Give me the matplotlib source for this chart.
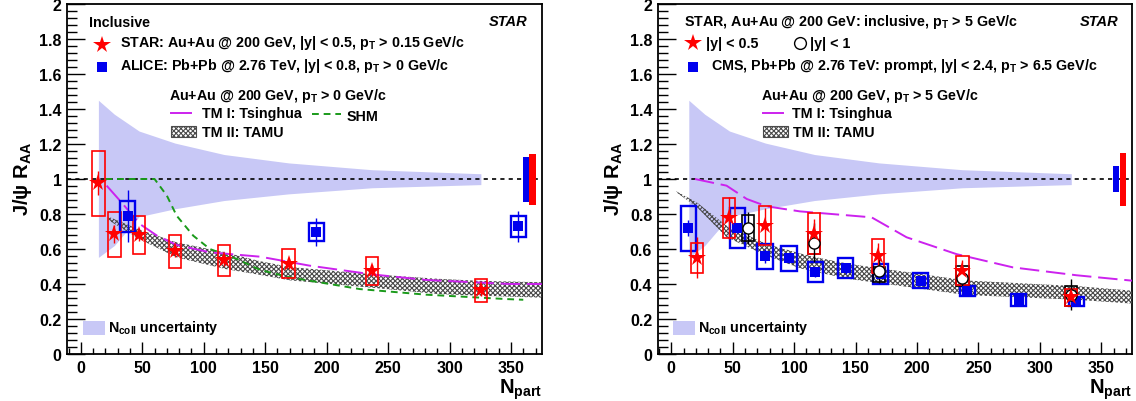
import numpy as np
import matplotlib
matplotlib.use('Agg')
import matplotlib.pyplot as plt
from matplotlib.patches import Rectangle
from matplotlib.ticker import MultipleLocator, FuncFormatter

plt.rcParams['font.family'] = ['Liberation Sans', 'DejaVu Sans']
plt.rcParams['font.weight'] = 'bold'
plt.rcParams['mathtext.fontset'] = 'custom'
plt.rcParams['mathtext.rm'] = 'Liberation Sans:bold'
plt.rcParams['mathtext.it'] = 'Liberation Sans:bold:italic'
plt.rcParams['mathtext.bf'] = 'Liberation Sans:bold'
plt.rcParams['hatch.linewidth'] = 0.8

# ---- left panel: inclusive, pT > 0 ----
star_npart = [14.3, 27.3, 47.4, 76.7, 116.5, 169.0, 237.0, 325.5]
star_raa = [0.975, 0.685, 0.68, 0.587, 0.535, 0.515, 0.477, 0.363]
star_stat = [0.068, 0.05, 0.035, 0.03, 0.03, 0.03, 0.03, 0.03]
star_sys_lo = [0.79, 0.555, 0.569, 0.494, 0.448, 0.432, 0.396, 0.295]
star_sys_hi = [1.159, 0.814, 0.79, 0.68, 0.622, 0.60, 0.552, 0.429]

alice_npart = [38.1, 191.6, 356.0]
alice_raa = [0.79, 0.70, 0.73]
alice_stat = [0.15, 0.08, 0.09]
alice_sys_lo = [0.70, 0.648, 0.667]
alice_sys_hi = [0.876, 0.749, 0.787]

tsing_l_x = [21, 33, 48, 62, 78, 105, 146, 186, 237, 281, 349, 375]
tsing_l_y = [0.962, 0.867, 0.743, 0.676, 0.623, 0.581, 0.556, 0.505, 0.455, 0.423, 0.40, 0.40]

shm_x = [20, 60, 70, 78, 91.5, 105, 127, 146, 170, 227, 281, 346, 360]
shm_y = [1.0, 1.0, 0.905, 0.79, 0.676, 0.60, 0.543, 0.48, 0.438, 0.371, 0.339, 0.314, 0.31]

tamu_l_x = [22.4, 48, 78, 118, 146, 170, 238, 290, 325, 375]
tamu_l_hi = [0.785, 0.71, 0.638, 0.58, 0.53, 0.497, 0.455, 0.43, 0.418, 0.41]
tamu_l_lo = [0.765, 0.655, 0.552, 0.485, 0.452, 0.421, 0.378, 0.343, 0.333, 0.322]

glob_alice_l = [0.867, 1.124]
glob_star_l = [0.851, 1.143]

# ---- right panel: high pT ----
rs_npart = [20.7, 47.1, 76.3, 116.4, 168.4, 237.0, 325.0]
rs_raa = [0.549, 0.777, 0.733, 0.686, 0.562, 0.476, 0.327]
rs_stat = [0.117, 0.12, 0.10, 0.083, 0.07, 0.06, 0.04]
rs_sys_lo = [0.461, 0.661, 0.623, 0.571, 0.463, 0.394, 0.276]
rs_sys_hi = [0.634, 0.89, 0.844, 0.806, 0.657, 0.558, 0.371]

rc_npart = [62.2, 116.4, 169.0, 237.0, 325.0]
rc_raa = [0.72, 0.636, 0.476, 0.432, 0.34]
rc_stat = [0.09, 0.11, 0.07, 0.06, 0.09]
rc_sys_lo = [0.644, 0.571, 0.413, 0.39, 0.276]
rc_sys_hi = [0.796, 0.695, 0.495, 0.505, 0.39]

cms_npart = [13.9, 53.8, 76.3, 95.8, 117.3, 142.0, 170.3, 203.1, 241.0, 282.8, 329.7]
cms_raa = [0.72, 0.72, 0.562, 0.549, 0.47, 0.49, 0.457, 0.419, 0.362, 0.31, 0.299]
cms_stat = [0.045, 0.03, 0.04, 0.03, 0.03, 0.03, 0.025, 0.02, 0.02, 0.015, 0.015]
cms_sys_lo = [0.59, 0.604, 0.486, 0.476, 0.413, 0.433, 0.40, 0.375, 0.33, 0.276, 0.276]
cms_sys_hi = [0.848, 0.832, 0.629, 0.619, 0.528, 0.547, 0.514, 0.461, 0.387, 0.343, 0.327]

tsing_r_x = [19.3, 45, 61.4, 77.6, 104.7, 163, 191.5, 232, 278, 329.7, 375]
tsing_r_y = [1.0, 0.962, 0.886, 0.844, 0.815, 0.781, 0.667, 0.571, 0.495, 0.45, 0.419]

tamu_r_x = [4, 20.7, 45.1, 77.6, 104.7, 118.3, 145.4, 169.8, 240.2, 329.7, 375]
tamu_r_hi = [0.93, 0.867, 0.733, 0.629, 0.575, 0.552, 0.514, 0.49, 0.42, 0.388, 0.362]
tamu_r_lo = [0.925, 0.84, 0.667, 0.562, 0.49, 0.468, 0.428, 0.405, 0.337, 0.31, 0.288]

glob_cms_r = [0.924, 1.076]
glob_star_r = [0.847, 1.149]

# N_coll uncertainty band (same in both panels)
ncoll_npart = [14.3, 27.3, 47.4, 76.7, 116.5, 169.0, 237.0, 325.5]
ncoll_hi = [1.45, 1.37, 1.274, 1.205, 1.14, 1.092, 1.053, 1.03]
ncoll_lo = [0.552, 0.62, 0.785, 0.83, 0.877, 0.915, 0.95, 0.968]

RED = '#ff0000'
BLUE = '#0000ee'
MAG = '#cc22ee'
GREEN = '#1a9a1a'
BAND = '#c8c8f6'
HATCH = '#4a4a4a'
FS = 10.3


def boxes(ax, x, lo, hi, half, color, lw, z):
    for xi, l, h in zip(x, lo, hi):
        ax.add_patch(Rectangle((xi - half, l), 2 * half, h - l, fill=False,
                               edgecolor=color, lw=lw, zorder=z))


def setup(ax):
    ax.set_xlim(-11, 375)
    ax.set_ylim(0, 2)
    ax.xaxis.set_major_locator(MultipleLocator(50))
    ax.xaxis.set_minor_locator(MultipleLocator(10))
    ax.yaxis.set_major_locator(MultipleLocator(0.2))
    ax.yaxis.set_minor_locator(MultipleLocator(0.04))
    ax.yaxis.set_major_formatter(FuncFormatter(lambda v, p: '%g' % round(v, 2)))
    ax.xaxis.set_tick_params(which='major', length=9, width=1, direction='in', pad=4)
    ax.xaxis.set_tick_params(which='minor', length=4.5, width=1, direction='in')
    ax.yaxis.set_tick_params(which='major', length=13, width=1, direction='in', pad=4)
    ax.yaxis.set_tick_params(which='minor', length=7, width=1, direction='in')
    ax.tick_params(top=False, right=False, which='both', labelsize=11.5)
    for s in ax.spines.values():
        s.set_linewidth(1.3)
    # N_coll band and unity line
    ax.fill_between(ncoll_npart, ncoll_lo, ncoll_hi, color=BAND, lw=0, zorder=1)
    ax.axhline(1, color='black', lw=1.2, ls=(0, (2.5, 2.5)), zorder=2)
    ax.text(1.0, -0.063, 'N$_{\\mathrm{part}}$', transform=ax.transAxes,
            ha='right', va='top', fontsize=14.5)
    ax.text(-0.094, 0.61, 'J/ψ R$_{\\mathrm{AA}}$', transform=ax.transAxes,
            rotation=90, ha='center', va='top', fontsize=14.5)
    ax.text(0.971, 0.941, 'STAR', transform=ax.transAxes, ha='right',
            va='baseline', fontsize=10.5, style='italic')
    ax.add_patch(Rectangle((0.033, 0.054), 0.046, 0.041, transform=ax.transAxes,
                           facecolor=BAND, lw=0))
    ax.text(0.086, 0.0666, 'N$_{\\mathrm{coll}}$ uncertainty', transform=ax.transAxes,
            va='baseline', fontsize=FS)


fig = plt.figure(figsize=(11.36, 4.02), dpi=100)
axl = fig.add_axes([67.3 / 1136, 47 / 402, 474.4 / 1136, 350 / 402])
axr = fig.add_axes([657.7 / 1136, 47 / 402, 474.4 / 1136, 350 / 402])

# ---------------- left ----------------
ax = axl
setup(ax)
ax.fill_between(tamu_l_x, tamu_l_lo, tamu_l_hi, facecolor='none', edgecolor=HATCH,
                hatch='xxxxxxx', lw=0, zorder=3)
ax.plot(shm_x, shm_y, color=GREEN, lw=1.4, ls=(0, (3.5, 2.5)), zorder=4)
ax.plot(tsing_l_x, tsing_l_y, color=MAG, lw=1.4, ls=(0, (10, 3.5)), zorder=4)
boxes(ax, star_npart, star_sys_lo, star_sys_hi, 5, RED, 1.2, 5)
boxes(ax, alice_npart, alice_sys_lo, alice_sys_hi, 6.2, BLUE, 1.7, 5)
ax.errorbar(star_npart, star_raa, yerr=star_stat, fmt='none', ecolor=RED, elinewidth=1, zorder=6)
ax.errorbar(alice_npart, alice_raa, yerr=alice_stat, fmt='none', ecolor=BLUE, elinewidth=1, zorder=6)
ax.plot(star_npart, star_raa, '*', color=RED, ms=13, mew=0, zorder=7)
ax.plot(alice_npart, alice_raa, 's', color=BLUE, ms=6.5, mew=0, zorder=7)
ax.bar(362.5, glob_alice_l[1] - glob_alice_l[0], bottom=glob_alice_l[0], width=5,
       color=BLUE, zorder=5)
ax.bar(367.7, glob_star_l[1] - glob_star_l[0], bottom=glob_star_l[0], width=5.4,
       color=RED, zorder=5)

t = ax.transAxes
ax.text(0.0455, 0.936, 'Inclusive', transform=t, va='baseline', fontsize=FS)
ax.plot([0.074], [0.884], '*', color=RED, ms=13, mew=0, transform=t)
ax.text(0.1107, 0.881, 'STAR: Au+Au @ 200 GeV, |y| < 0.5, p$_{\\mathrm{T}}$ > 0.15 GeV/c',
        transform=t, va='baseline', fontsize=FS)
ax.plot([0.074], [0.819], 's', color=BLUE, ms=7, mew=0, transform=t)
ax.text(0.1107, 0.8143, 'ALICE: Pb+Pb @ 2.76 TeV, |y| < 0.8, p$_{\\mathrm{T}}$ > 0 GeV/c',
        transform=t, va='baseline', fontsize=FS)
ax.text(0.2154, 0.7286, 'Au+Au @ 200 GeV, p$_{\\mathrm{T}}$ > 0 GeV/c',
        transform=t, va='baseline', fontsize=FS)
ax.plot([0.2178, 0.2614], [0.6877, 0.6877], color=MAG, lw=1.4, transform=t)
ax.text(0.2829, 0.676, 'TM I: Tsinghua', transform=t, va='baseline', fontsize=FS)
ax.plot([0.5158, 0.577], [0.6857, 0.6857], color=GREEN, lw=1.4, ls=(0, (3.5, 2.5)), transform=t)
ax.text(0.5888, 0.669, 'SHM', transform=t, va='baseline', fontsize=FS)
ax.add_patch(Rectangle((0.2178, 0.6191), 0.0535, 0.0332, transform=t, facecolor='white',
                       edgecolor=HATCH, hatch='xxxxxxx', lw=0.8))
ax.text(0.2829, 0.622, 'TM II: TAMU', transform=t, va='baseline', fontsize=FS)

# ---------------- right ----------------
ax = axr
setup(ax)
ax.fill_between(tamu_r_x, tamu_r_lo, tamu_r_hi, facecolor='none', edgecolor=HATCH,
                hatch='xxxxxxx', lw=0, zorder=3)
ax.plot(tsing_r_x, tsing_r_y, color=MAG, lw=1.4, ls=(0, (10, 3.5)), zorder=4)
boxes(ax, cms_npart, cms_sys_lo, cms_sys_hi, 6.2, BLUE, 1.7, 5)
boxes(ax, rc_npart, rc_sys_lo, rc_sys_hi, 5, 'black', 1.2, 5.1)
boxes(ax, rs_npart, rs_sys_lo, rs_sys_hi, 5, RED, 1.2, 5.2)
ax.errorbar(cms_npart, cms_raa, yerr=cms_stat, fmt='none', ecolor=BLUE, elinewidth=1, zorder=6)
ax.errorbar(rc_npart, rc_raa, yerr=rc_stat, fmt='none', ecolor='black', elinewidth=1, zorder=6)
ax.errorbar(rs_npart, rs_raa, yerr=rs_stat, fmt='none', ecolor=RED, elinewidth=1, zorder=6)
ax.plot(cms_npart, cms_raa, 's', color=BLUE, ms=6.5, mew=0, zorder=7)
ax.plot(rc_npart, rc_raa, 'o', mfc='white', mec='black', ms=8, mew=1, zorder=7)
ax.plot(rs_npart, rs_raa, '*', color=RED, ms=13, mew=0, zorder=8)
ax.bar(362.0, glob_cms_r[1] - glob_cms_r[0], bottom=glob_cms_r[0], width=4.6,
       color=BLUE, zorder=5)
ax.bar(367.6, glob_star_r[1] - glob_star_r[0], bottom=glob_star_r[0], width=5.4,
       color=RED, zorder=5)

t = ax.transAxes
ax.text(0.0546, 0.941, 'STAR, Au+Au @ 200 GeV: inclusive, p$_{\\mathrm{T}}$ > 5 GeV/c',
        transform=t, va='baseline', fontsize=FS)
ax.plot([0.0753], [0.89], '*', color=RED, ms=13, mew=0, transform=t)
ax.text(0.1018, 0.876, '|y| < 0.5', transform=t, va='baseline', fontsize=FS)
ax.plot([0.301], [0.89], 'o', mfc='white', mec='black', ms=8.5, mew=1, transform=t)
ax.text(0.3202, 0.876, '|y| < 1', transform=t, va='baseline', fontsize=FS)
ax.plot([0.0753], [0.821], 's', color=BLUE, ms=7, mew=0, transform=t)
ax.text(0.1119, 0.8143, 'CMS, Pb+Pb @ 2.76 TeV: prompt, |y| < 2.4, p$_{\\mathrm{T}}$ > 6.5 GeV/c',
        transform=t, va='baseline', fontsize=FS)
ax.text(0.2169, 0.7286, 'Au+Au @ 200 GeV, p$_{\\mathrm{T}}$ > 5 GeV/c',
        transform=t, va='baseline', fontsize=FS)
ax.plot([0.2215, 0.2635], [0.6877, 0.6877], color=MAG, lw=1.4, transform=t)
ax.text(0.2821, 0.676, 'TM I: Tsinghua', transform=t, va='baseline', fontsize=FS)
ax.add_patch(Rectangle((0.2215, 0.6191), 0.0536, 0.0332, transform=t, facecolor='white',
                       edgecolor=HATCH, hatch='xxxxxxx', lw=0.8))
ax.text(0.2856, 0.622, 'TM II: TAMU', transform=t, va='baseline', fontsize=FS)

fig.savefig('out.png', dpi=100)
